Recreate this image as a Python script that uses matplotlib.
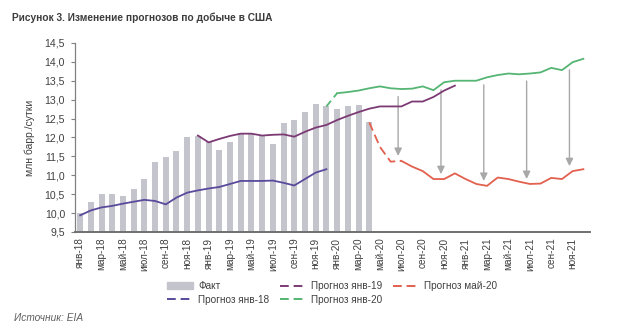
import numpy as np
import matplotlib.pyplot as plt
from matplotlib.lines import Line2D
from matplotlib.patches import Patch

plt.rcParams['font.family'] = ['Liberation Sans', 'DejaVu Sans']

months = ['янв', 'фев', 'мар', 'апр', 'май', 'июн',
          'июл', 'авг', 'сен', 'окт', 'ноя', 'дек']
years = ['18', '19', '20', '21']
labels = [m + '-' + y for y in years for m in months]

# fact: янв-18 .. апр-20
fact = [10.0, 10.28, 10.5, 10.5, 10.45, 10.64, 10.89, 11.36, 11.49, 11.63, 12.0, 12.04,
        11.89, 11.67, 11.89, 12.13, 12.1, 12.07, 11.82, 12.38, 12.46, 12.67, 12.88, 12.82,
        12.76, 12.84, 12.87, 12.4]
# forecast jan-18: янв-18 .. дек-19
fc_jan18 = [9.94, 10.07, 10.15, 10.19, 10.25, 10.3, 10.35, 10.32, 10.23, 10.41, 10.54, 10.6,
            10.65, 10.69, 10.77, 10.85, 10.85, 10.85, 10.86, 10.8, 10.73, 10.9, 11.07, 11.16]
# forecast jan-19: дек-18 .. дек-20
fc_jan19 = [12.05, 11.87, 11.96, 12.04, 12.1, 12.1, 12.05, 12.07, 12.08, 12.02, 12.15, 12.26,
            12.33, 12.46, 12.57, 12.67, 12.76, 12.82, 12.82, 12.82, 12.95, 12.95, 13.07, 13.24,
            13.37]
# forecast jan-20: дек-19 .. дек-21
fc_jan20 = [12.82, 13.17, 13.2, 13.24, 13.3, 13.35, 13.3, 13.28, 13.29, 13.35, 13.25, 13.46,
            13.5, 13.5, 13.5, 13.59, 13.65, 13.69, 13.67, 13.69, 13.72, 13.84, 13.78, 13.99,
            14.08]
# forecast may-20: апр-20 .. дек-21
fc_may20 = [12.4, 11.75, 11.36, 11.38, 11.23, 11.11, 10.9, 10.9, 11.05, 10.9, 10.77, 10.72,
            10.94, 10.9, 10.83, 10.77, 10.78, 10.93, 10.9, 11.11, 11.16]

arrow_months = ['июл-20', 'ноя-20', 'мар-21', 'июл-21', 'ноя-21']

c_fact = '#c4c4cc'
c_18 = '#5a4a9c'
c_19 = '#7c3a74'
c_20 = '#55b573'
c_may = '#e2604e'

x_fact = np.arange(len(fact))
x_18 = np.arange(len(fc_jan18))
x_19 = np.arange(len(fc_jan19)) + labels.index('дек-18')
x_20 = np.arange(len(fc_jan20)) + labels.index('дек-19')
x_may = np.arange(len(fc_may20)) + labels.index('апр-20')

fig = plt.figure(figsize=(6.39, 3.30), dpi=100)
ax = fig.add_axes([0.117, 0.297, 0.806, 0.573])

ax.bar(x_fact, fact, width=0.56, color=c_fact, zorder=1)
ax.plot(x_18, fc_jan18, color=c_18, lw=1.3, zorder=3)
ax.plot(x_19, fc_jan19, color=c_19, lw=1.3, zorder=3)
# first step of the jan-20 forecast is dashed
ax.plot(x_20[:2], fc_jan20[:2], color=c_20, lw=1.3, dashes=(4, 2.5), zorder=3)
ax.plot(x_20[1:], fc_jan20[1:], color=c_20, lw=1.3, zorder=3)
# may-20 forecast starts dashed
ax.plot(x_may[:4], fc_may20[:4], color=c_may, lw=1.3, dashes=(5, 2.5), zorder=3)
ax.plot(x_may[3:], fc_may20[3:], color=c_may, lw=1.3, zorder=3)

# arrows from the jan-20 forecast down to the may-20 forecast
for m in arrow_months:
    i = labels.index(m)
    top = fc_jan20[i - x_20[0]] - 0.2
    bot = fc_may20[i - x_may[0]] + 0.13
    ax.annotate('', xy=(i - 0.3, bot), xytext=(i - 0.3, top),
                arrowprops=dict(arrowstyle='-|>,head_length=0.45,head_width=0.22',
                                color='#a8a8a8', lw=1.0,
                                shrinkA=0, shrinkB=0), zorder=2)

ax.set_xlim(-0.5, 47.6)
ax.set_ylim(9.5, 14.5)
yt = np.arange(9.5, 14.51, 0.5)
ax.set_yticks(yt)
ax.set_yticklabels([('%.1f' % v).replace('.', ',') for v in yt],
                   fontsize=7.6, color='#404040')
ax.set_xticks(np.arange(0, 48, 2))
ax.set_xticklabels(labels[::2], rotation=90, fontsize=7.2, color='#404040')
ax.tick_params(axis='x', length=0, pad=4)
ax.tick_params(axis='y', length=3, width=0.8, color='#808080', pad=4)
for s in ['top', 'right']:
    ax.spines[s].set_visible(False)
ax.spines['left'].set_color('#808080')
ax.spines['left'].set_linewidth(0.9)
ax.spines['bottom'].set_color('#707070')
ax.spines['bottom'].set_linewidth(1.4)
ax.set_ylabel('млн барр./сутки', fontsize=7.5, color='#404040', labelpad=7)

fig.text(0.019, 0.945, 'Рисунок 3. Изменение прогнозов по добыче в США',
         fontsize=7.3, fontweight='bold', color='#3c3c3c', va='center')
fig.text(0.022, 0.035, 'Источник: EIA', fontsize=7.3, style='italic',
         color='#606060', va='center')

dash = (0, (4.5, 2.5))
handles = [Patch(color=c_fact),
           Line2D([], [], color=c_18, lw=1.4, linestyle=dash),
           Line2D([], [], color=c_19, lw=1.4, linestyle=dash),
           Line2D([], [], color=c_20, lw=1.4, linestyle=dash),
           Line2D([], [], color=c_may, lw=1.4, linestyle=dash)]
names = ['Факт', 'Прогноз янв-18', 'Прогноз янв-19', 'Прогноз янв-20', 'Прогноз май-20']
fig.legend(handles, names, loc='center', bbox_to_anchor=(0.52, 0.112), ncol=3,
           frameon=False, fontsize=7.2, handlelength=2.6, handletextpad=0.5,
           columnspacing=1.1, labelspacing=0.35, labelcolor='#404040')

fig.savefig('out.png', dpi=100)
